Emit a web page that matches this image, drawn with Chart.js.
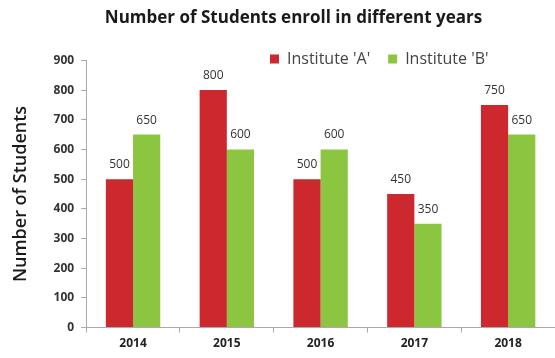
<!DOCTYPE html>
<html><head><meta charset="utf-8">
<script src="https://cdn.jsdelivr.net/npm/chart.js@4/dist/chart.umd.min.js"></script>
<style>html,body{margin:0;padding:0;background:#fff}#wrap{width:555px;height:358px}</style>
</head><body><div id="wrap"><canvas id="c" width="555" height="358"></canvas></div>
<script>
const categories = ['2014','2015','2016','2017','2018'];
const instituteA = [500, 800, 500, 450, 750];
const instituteB = [650, 600, 600, 350, 650];
const yTicks = [0,100,200,300,400,500,600,700,800,900];
const seriesNames = ["Institute 'A'", "Institute 'B'"];

const FONT = "'Open Sans', 'DejaVu Sans', sans-serif";

const valueLabels = {
  id: 'valueLabels',
  afterDatasetsDraw(chart) {
    const ctx = chart.ctx;
    ctx.save();
    ctx.font = "12px " + FONT;
    ctx.fillStyle = '#333';
    ctx.textAlign = 'center';
    ctx.textBaseline = 'alphabetic';
    chart.data.datasets.forEach((ds, i) => {
      const meta = chart.getDatasetMeta(i);
      meta.data.forEach((el, j) => {
        ctx.fillText(String(ds.data[j]), el.x, el.y - 11);
      });
    });
    ctx.restore();
  }
};
const LEG_PAD = 18;
const boxShift = {
  id: 'boxShift',
  beforeLayout(chart) {
    const lg = chart.legend;
    if (lg && !lg._fitPatched) {
      const orig = lg.fit.bind(lg);
      lg.fit = function () { orig(); this.height = 30; };
      lg._fitPatched = true;
    }
  },
  afterLayout(chart) {
    const lg = chart.legend;
    const dx = (270 - LEG_PAD) - lg.left;
    const dy = (58 - 7 - LEG_PAD) - lg.top;
    lg.left += dx; lg.right += dx;
    lg.top += dy;
    lg.height = 70;
    lg.bottom = lg.top + 70;
    if (lg.legendHitBoxes) lg.legendHitBoxes.forEach(b => { b.left += dx; b.top += dy; });
    const tb = chart.titleBlock;
    tb.left += 9; tb.right += 9;
  }
};

new Chart(document.getElementById('c'), {
  type: 'bar',
  data: {
    labels: categories,
    datasets: [
      { label: seriesNames[0], data: instituteA, backgroundColor: '#cd282d', categoryPercentage: 0.58, barPercentage: 1.0 },
      { label: seriesNames[1], data: instituteB, backgroundColor: '#8cc540', categoryPercentage: 0.58, barPercentage: 1.0 }
    ]
  },
  options: {
    responsive: false,
    animation: false,
    devicePixelRatio: 1,
    layout: { padding: { left: 10, right: -4, top: 5, bottom: 3 } },
    plugins: {
      title: { display: true, text: 'Number of Students enroll in different years',
        font: { family: FONT, size: 17, weight: 'bold' }, color: '#1a1a1a', padding: { top: 3, bottom: 2 } },
      legend: { display: true, position: 'top', align: 'start',
        labels: { boxWidth: 9, boxHeight: 9, padding: LEG_PAD, font: { family: FONT, size: 16 }, color: '#444' } },
      tooltip: { enabled: false }
    },
    scales: {
      x: {
        grid: { display: true, drawOnChartArea: false, drawTicks: true, tickLength: 5, color: '#aaa' },
        border: { display: true, color: '#aaa' },
        ticks: { font: { family: FONT, size: 12, weight: 'bold' }, color: '#222', padding: 4 }
      },
      y: {
        min: 0, max: 900,
        afterBuildTicks(axis) { axis.ticks = yTicks.map(v => ({ value: v })); },
        grid: { display: true, drawOnChartArea: false, drawTicks: true, tickLength: 5, color: '#aaa' },
        border: { display: true, color: '#aaa' },
        ticks: { font: { family: FONT, size: 12, weight: 'bold' }, color: '#333', padding: 7 },
        title: { display: true, text: 'Number of Students', font: { family: FONT, size: 18, weight: '600' }, color: '#1a1a1a', padding: { top: 0, bottom: 15 } }
      }
    }
  },
  plugins: [valueLabels, boxShift]
});
</script></body></html>
